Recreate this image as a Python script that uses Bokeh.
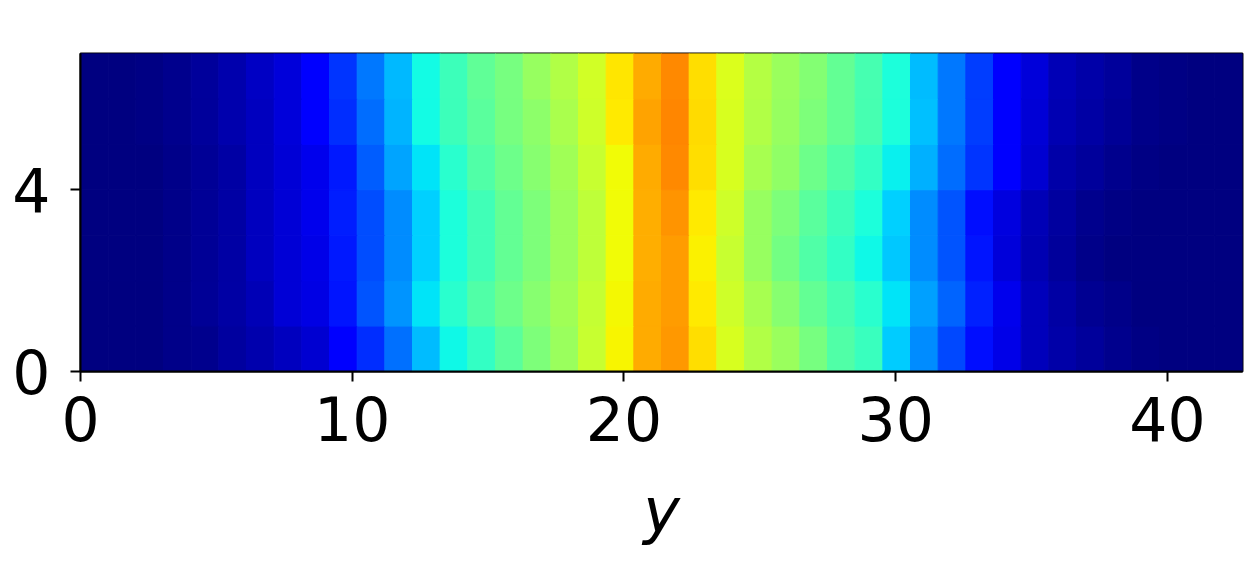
import numpy as np
from bokeh.plotting import figure
from bokeh.models import ColumnDataSource, Range1d, FixedTicker, LinearColorMapper
from bokeh.transform import transform
from bokeh.embed import file_html
from bokeh.resources import INLINE

# ---- data: 7 rows (bottom -> top) x 42 columns, colour value 0..1 on jet scale
row0 = [0, 0, .003, .008, .015, .03, .04, .055, .071, .118, .169, .238, .311, .368, .411, .459, .502, .538, .593, .65,
        .73, .749, .672, .611, .563, .538, .496, .447, .42, .326, .262, .199, .137, .093, .054, .036, .024, .015, .006, .002, .001, 0]
row1 = [0, 0, .003, .008, .02, .035, .05, .075, .088, .145, .208, .272, .35, .399, .447, .484, .514, .545, .587, .645,
        .727, .746, .661, .599, .551, .514, .472, .435, .399, .35, .282, .223, .159, .097, .054, .032, .019, .009, .002, 0, 0, 0]
row2 = [0, 0, .003, .008, .02, .035, .055, .078, .093, .150, .203, .262, .331, .386, .429, .472, .502, .538, .581, .641,
        .725, .746, .656, .593, .532, .49, .447, .411, .368, .321, .262, .208, .145, .08, .045, .024, .011, .002, 0, 0, 0, 0]
row3 = [0, 0, .003, .008, .02, .035, .055, .078, .097, .154, .203, .262, .331, .386, .429, .472, .502, .538, .581, .641,
        .725, .751, .661, .599, .532, .502, .459, .423, .386, .331, .262, .208, .14, .084, .049, .028, .015, .004, 0, 0, 0, 0]
row4 = [0, 0, .003, .008, .02, .035, .055, .078, .097, .150, .218, .287, .35, .399, .447, .484, .514, .545, .593, .642,
        .73, .762, .672, .611, .551, .526, .484, .447, .411, .36, .297, .233, .176, .112, .071, .036, .024, .015, .006, .002, 0, 0]
row5 = [0, 0, .004, .012, .024, .04, .058, .08, .112, .169, .233, .301, .374, .425, .459, .496, .52, .557, .599, .661,
        .735, .767, .677, .611, .563, .532, .502, .472, .435, .386, .316, .243, .184, .113, .075, .045, .032, .02, .009, .004, .002, 0]
row6 = [0, 0, .004, .012, .025, .04, .06, .082, .115, .179, .243, .306, .374, .423, .466, .496, .532, .563, .605, .666,
        .73, .762, .672, .617, .569, .538, .508, .472, .435, .386, .311, .243, .184, .115, .08, .049, .036, .024, .011, .006, .002, 0]
rows = [row0, row1, row2, row3, row4, row5, row6]

x_extent = 42.76          # data extent of the image along x
y_extent = 7.0
x_ticks = [0, 10, 20, 30, 40]
y_ticks = [0, 4]
x_label = "y"

# ---- jet palette
def jet_palette(n=256):
    t = np.linspace(0, 1, n)
    r = np.interp(t, [0, .35, .66, .89, 1], [0, 0, 1, 1, .5])
    g = np.interp(t, [0, .125, .375, .64, .91, 1], [0, 0, 1, 1, 0, 0])
    b = np.interp(t, [0, .11, .34, .65, 1], [.5, 1, 1, 0, 0])
    return ["#%02x%02x%02x" % (int(round(a * 255)), int(round(c * 255)), int(round(d * 255)))
            for a, c, d in zip(r, g, b)]

jet = jet_palette()

nrow, ncol = len(rows), len(rows[0])
dx = x_extent / ncol
dy = y_extent / nrow
left, right, bottom, top, val = [], [], [], [], []
for j, row in enumerate(rows):
    for i, v in enumerate(row):
        left.append(i * dx); right.append((i + 1) * dx)
        bottom.append(j * dy); top.append((j + 1) * dy)
        val.append(v)
src = ColumnDataSource(dict(left=left, right=right, bottom=bottom, top=top, v=val))
mapper = LinearColorMapper(palette=jet, low=0, high=1)

p = figure(width=1248, height=575, output_backend="svg", toolbar_location=None,
           x_range=Range1d(0, x_extent), y_range=Range1d(0, y_extent),
           min_border_left=80, min_border_right=6, min_border_top=53, min_border_bottom=204)
p.quad(left="left", right="right", bottom="bottom", top="top", source=src,
       fill_color=transform("v", mapper), line_color=transform("v", mapper), line_width=1)

p.grid.visible = False
p.outline_line_color = "black"
p.outline_line_width = 2
p.background_fill_color = "white"
p.border_fill_color = "white"

for ax in (p.xaxis[0], p.yaxis[0]):
    ax.axis_line_width = 2
    ax.axis_line_color = "black"
    ax.major_tick_line_width = 2
    ax.major_tick_out = 10
    ax.major_tick_in = 0
    ax.minor_tick_line_color = None
    ax.major_label_text_font = "DejaVu Sans"
    ax.major_label_text_font_size = "60px"
    ax.major_label_text_color = "black"

p.xaxis.ticker = FixedTicker(ticks=x_ticks)
p.yaxis.ticker = FixedTicker(ticks=y_ticks)
p.xaxis.major_label_standoff = 14
p.yaxis.major_label_standoff = 20
p.xaxis.axis_label = x_label
p.xaxis.axis_label_text_font = "DejaVu Sans"
p.xaxis.axis_label_text_font_style = "italic"
p.xaxis.axis_label_text_font_size = "62px"
p.xaxis.axis_label_text_color = "black"
p.xaxis.axis_label_standoff = 30

open("out.html", "w").write(file_html(p, INLINE))
